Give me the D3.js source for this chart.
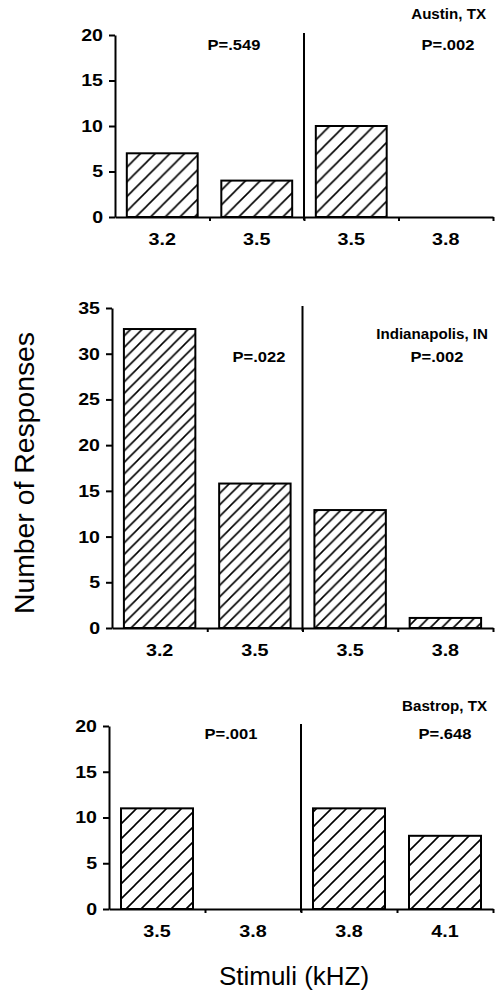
<!DOCTYPE html>
<html>
<head>
<meta charset="utf-8">
<script src="https://cdn.jsdelivr.net/npm/d3@7"></script>
<style>
  body { margin: 0; background: #fff; }
  svg { display: block; font-family: "Liberation Sans", Arial, sans-serif; }
</style>
</head>
<body>
<svg id="chart" width="499" height="994"></svg>
<script>
// data
const austinLabels = ["3.2", "3.5", "3.5", "3.8"];
const austinCounts = [7, 4, 10, 0];
const austinP = ["P=.549", "P=.002"];

const indyLabels = ["3.2", "3.5", "3.5", "3.8"];
const indyCounts = [32.7, 15.8, 12.9, 1.1];
const indyP = ["P=.022", "P=.002"];

const bastropLabels = ["3.5", "3.8", "3.8", "4.1"];
const bastropCounts = [11, 0, 11, 8];
const bastropP = ["P=.001", "P=.648"];

const siteNames = ["Austin, TX", "Indianapolis, IN", "Bastrop, TX"];
const yMaxes = [20, 35, 20];

const svg = d3.select("#chart");

// stretch text a bit, the scanned type is wider than Arial
function stretch(sel, k) {
  sel.each(function () {
    const w = this.getComputedTextLength();
    d3.select(this).attr("textLength", w * k).attr("lengthAdjust", "spacingAndGlyphs");
  });
}

// layout of the three panels (pixels)
const panels = [
  { labels: austinLabels, counts: austinCounts, p: austinP, name: siteNames[0], yMax: yMaxes[0],
    x0: 115, x1: 493, y0: 217, yTop: 35, hatch: 14.7,
    nameX: 486, nameY: 19, pY: 50, pX: [234, 448] },
  { labels: indyLabels, counts: indyCounts, p: indyP, name: siteNames[1], yMax: yMaxes[1],
    x0: 112, x1: 493, y0: 628, yTop: 308, hatch: 11.5,
    nameX: 488, nameY: 339, pY: 362, pX: [259, 437] },
  { labels: bastropLabels, counts: bastropCounts, p: bastropP, name: siteNames[2], yMax: yMaxes[2],
    x0: 109, x1: 493, y0: 909, yTop: 726, hatch: 15,
    nameX: 487, nameY: 711, pY: 739, pX: [231, 445] }
];

const defs = svg.append("defs");

panels.forEach((pn, i) => {
  const s = pn.hatch;
  defs.append("pattern")
    .attr("id", "hatch" + i)
    .attr("patternUnits", "userSpaceOnUse")
    .attr("width", s).attr("height", s)
    .append("path")
    .attr("d", `M0,${s} L${s},0 M${-s / 4},${s / 4} L${s / 4},${-s / 4} M${3 * s / 4},${5 * s / 4} L${5 * s / 4},${3 * s / 4}`)
    .attr("stroke", "#000")
    .attr("stroke-width", 1.6);

  const g = svg.append("g");
  const idx = pn.counts.map((d, j) => j);

  const x = d3.scaleBand().domain(idx).range([pn.x0, pn.x1]).paddingInner(0.25).paddingOuter(0.125);
  const xEdge = d3.scaleLinear().domain([0, 4]).range([pn.x0, pn.x1]);
  const y = d3.scaleLinear().domain([0, pn.yMax]).range([pn.y0, pn.yTop]);

  // bars
  g.selectAll("rect.bar").data(pn.counts).join("rect")
    .attr("class", "bar")
    .attr("x", (d, j) => x(j))
    .attr("width", x.bandwidth())
    .attr("y", d => y(d))
    .attr("height", d => y(0) - y(d))
    .attr("fill", d => d > 0 ? `url(#hatch${i})` : "none")
    .attr("stroke", d => d > 0 ? "#000" : "none")
    .attr("stroke-width", 2);

  // divider between the two comparisons
  g.append("line")
    .attr("x1", xEdge(2)).attr("x2", xEdge(2))
    .attr("y1", y(pn.yMax) - 2).attr("y2", y(0) + 3)
    .attr("stroke", "#000").attr("stroke-width", 2);

  // x axis line with ticks at band edges
  const xAxis = g.append("g")
    .attr("transform", `translate(0,${pn.y0})`)
    .call(d3.axisBottom(xEdge).tickValues([1, 2, 3, 4]).tickFormat("").tickSize(4).tickSizeOuter(0));
  xAxis.select(".domain").attr("stroke-width", 2);
  xAxis.selectAll(".tick line").attr("stroke-width", 2);

  // x labels
  const xLab = g.append("g")
    .attr("transform", `translate(0,${pn.y0})`)
    .call(d3.axisBottom(x).tickFormat(j => pn.labels[j]).tickSize(0).tickPadding(16));
  xLab.select(".domain").remove();
  xLab.selectAll("text")
    .attr("font-family", "Liberation Sans, Arial, sans-serif")
    .attr("font-size", 17).attr("font-weight", "bold").attr("fill", "#000")
    .call(stretch, 1.16);

  // y axis
  const yAxis = g.append("g")
    .attr("transform", `translate(${pn.x0},0)`)
    .call(d3.axisLeft(y).tickValues(d3.range(0, pn.yMax + 1, 5)).tickSize(6).tickSizeOuter(0).tickPadding(6));
  yAxis.select(".domain").attr("stroke-width", 2);
  yAxis.selectAll(".tick line").attr("stroke-width", 2);
  yAxis.selectAll("text")
    .attr("font-family", "Liberation Sans, Arial, sans-serif")
    .attr("font-size", 17).attr("font-weight", "bold").attr("fill", "#000")
    .call(stretch, 1.15);

  // site name and p values
  g.append("text")
    .attr("x", pn.nameX).attr("y", pn.nameY)
    .attr("text-anchor", "end")
    .attr("font-size", 14).attr("font-weight", "bold")
    .text(pn.name)
    .call(stretch, 1.08);

  g.selectAll("text.pval").data(pn.p).join("text")
    .attr("class", "pval")
    .attr("x", (d, j) => pn.pX[j]).attr("y", pn.pY)
    .attr("text-anchor", "middle")
    .attr("font-size", 14).attr("font-weight", "bold")
    .text(d => d)
    .call(stretch, 1.18);
});

// axis titles
svg.append("text")
  .attr("transform", "translate(34,473) rotate(-90)")
  .attr("text-anchor", "middle")
  .attr("font-size", 27)
  .text("Number of Responses")
  .call(stretch, 1.05);

svg.append("text")
  .attr("x", 294).attr("y", 985)
  .attr("text-anchor", "middle")
  .attr("font-size", 26)
  .text("Stimuli (kHZ)");
</script>
</body>
</html>
